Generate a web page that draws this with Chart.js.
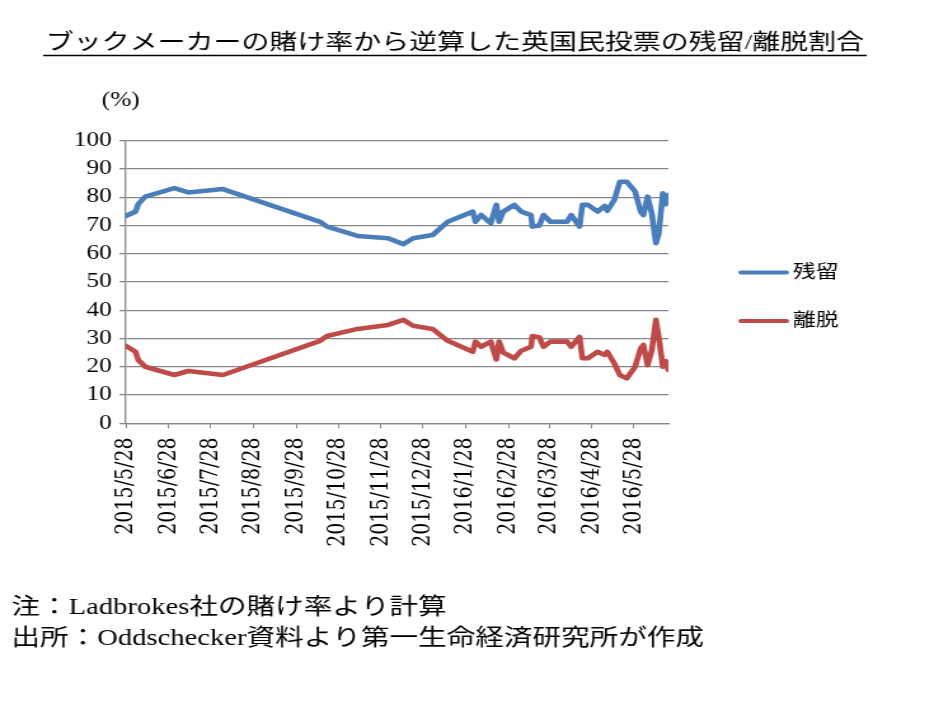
<!DOCTYPE html>
<html>
<head>
<meta charset="utf-8">
<script src="https://cdn.jsdelivr.net/npm/chart.js@4"></script>
<style>
  html, body { margin: 0; padding: 0; background: #fff; overflow: hidden; }
  /* the reference picture is stretched sideways, so the whole chart is too */
  #wrap { width: 735px; height: 701px; transform: scaleX(1.2707); transform-origin: 0 0; }
</style>
</head>
<body>
<div id="wrap"><canvas id="chart"></canvas></div>
<script>
const dates = [
  "2015/5/28", "2015/6/4", "2015/6/6", "2015/6/11", "2015/7/2", "2015/7/12", "2015/8/6",
  "2015/10/15", "2015/10/20", "2015/11/11", "2015/12/3", "2015/12/14", "2015/12/21",
  "2016/1/4", "2016/1/15", "2016/2/2", "2016/2/4", "2016/2/8", "2016/2/15", "2016/2/19",
  "2016/2/21", "2016/2/24", "2016/3/3", "2016/3/8", "2016/3/15", "2016/3/16", "2016/3/21",
  "2016/3/24", "2016/3/29", "2016/4/10", "2016/4/13", "2016/4/19", "2016/4/21", "2016/4/25",
  "2016/5/2", "2016/5/7", "2016/5/9", "2016/5/14", "2016/5/18", "2016/5/23", "2016/5/29",
  "2016/6/2", "2016/6/4", "2016/6/7", "2016/6/10", "2016/6/13", "2016/6/15", "2016/6/18",
  "2016/6/20", "2016/6/22"
]
const remain = [
  73.4, 74.9, 77.6, 80.2, 83.2, 81.7, 82.9,
  71.3, 69.6, 66.3, 65.5, 63.4, 65.5,
  66.6, 71.3, 74.9, 71.3, 73.7, 70.8, 77.3,
  71.3, 74.9, 77.3, 74.9, 73.7, 69.6, 70.0,
  73.7, 71.3, 71.3, 73.7, 69.6, 77.3, 77.3,
  74.9, 76.9, 75.2, 79.0, 85.5, 85.5, 82.0,
  74.9, 73.7, 80.2, 74.3, 63.7, 67.0, 81.4,
  77.5, 80.8
]
const leave = [
  27.4, 25.3, 22.4, 20.0, 17.1, 18.5, 17.1,
  29.2, 30.9, 33.4, 34.8, 36.6, 34.5,
  33.4, 29.2, 25.3, 28.9, 27.1, 28.9, 22.6,
  28.9, 25.0, 23.0, 25.7, 27.1, 30.9, 30.4,
  27.1, 28.9, 28.9, 27.1, 30.6, 23.0, 23.0,
  25.3, 24.2, 25.3, 21.2, 17.1, 15.9, 20.0,
  26.5, 27.7, 20.6, 25.7, 36.6, 30.6, 20.0,
  22.0, 18.9
]
const xTickLabels = [
  "2015/5/28", "2015/6/28", "2015/7/28", "2015/8/28", "2015/9/28", "2015/10/28",
  "2015/11/28", "2015/12/28", "2016/1/28", "2016/2/28", "2016/3/28", "2016/4/28", "2016/5/28"
]
const seriesNames = ["残留", "離脱"]
const seriesColors = ["#4a7ebb", "#be4b48"]

const title = "ブックメーカーの賭け率から逆算した英国民投票の残留/離脱割合"
const unitLabel = "(%)"
const notes = ["注：Ladbrokes社の賭け率より計算", "出所：Oddschecker資料より第一生命経済研究所が作成"]

// days counted from the first date, used as the x value
function dayOf(s) {
  const [y, m, d] = s.split("/").map(Number)
  return Date.UTC(y, m - 1, d) / 86400000
}
const day0 = dayOf(dates[0])
const xs = dates.map((s) => dayOf(s) - day0)
const tickDays = xTickLabels.map((s) => dayOf(s) - day0)

const jpFont = '"Liberation Serif", "Noto Sans CJK JP"'

const textPlugin = {
  id: "texts",
  afterDraw(chart) {
    const c = chart.ctx
    c.save()
    c.fillStyle = "#000"
    c.textBaseline = "middle"

    // title with underline
    c.font = "22px " + jpFont
    c.textAlign = "center"
    c.fillText(title, 358, 43)
    const w = c.measureText(title).width
    c.strokeStyle = "#000"
    c.lineWidth = 1.6
    c.beginPath()
    c.moveTo(358 - w / 2 - 2, 55.5)
    c.lineTo(358 + w / 2 + 2, 55.5)
    c.stroke()

    // unit
    c.font = "20px " + jpFont
    c.fillText(unitLabel, 95, 101)

    // legend
    c.textAlign = "left"
    c.font = "18px " + jpFont
    c.lineCap = "round"
    seriesNames.forEach((name, i) => {
      const y = 272.5 + i * 48.5
      c.strokeStyle = seriesColors[i]
      c.lineWidth = 4
      c.beginPath()
      c.moveTo(583, y)
      c.lineTo(619, y)
      c.stroke()
      c.fillText(name, 624, y + 0.5)
    })

    // notes
    c.font = "22.5px " + jpFont
    notes.forEach((t, i) => c.fillText(t, 9, 608 + i * 31))
    c.restore()
  }
}

new Chart(document.getElementById("chart"), {
  type: "line",
  data: {
    datasets: [remain, leave].map((vals, i) => ({
      label: seriesNames[i],
      data: vals.map((v, j) => ({ x: xs[j], y: v })),
      borderColor: seriesColors[i],
      backgroundColor: seriesColors[i],
      borderWidth: 4.6,
      borderJoinStyle: "round",
      borderCapStyle: "round",
      pointRadius: 0,
      tension: 0,
    })),
  },
  options: {
    responsive: true,
    maintainAspectRatio: false,
    animation: false,
    layout: { padding: { left: 0, right: 209, top: 140.7, bottom: 147.7 } },
    plugins: {
      legend: { display: false },
      tooltip: { enabled: false },
    },
    scales: {
      x: {
        type: "linear",
        min: 0,
        max: xs[xs.length - 1],
        afterBuildTicks: (scale) => { scale.ticks = tickDays.map((v) => ({ value: v })) },
        afterFit: (scale) => { scale.height = 130 },
        grid: { drawOnChartArea: false, color: "#868686", tickLength: 5 },
        border: { color: "#868686", width: 1.3 },
        ticks: {
          autoSkip: false,
          minRotation: 90,
          maxRotation: 90,
          padding: 9,
          color: "#000",
          font: { family: "DejaVu Serif", size: 19 },
          callback: (v) => xTickLabels[tickDays.indexOf(v)],
        },
      },
      y: {
        min: 0,
        max: 100,
        afterFit: (scale) => { scale.width = 99 },
        grid: { color: "#868686", lineWidth: 1.3, tickLength: 5 },
        border: { color: "#868686", width: 1.3 },
        ticks: {
          stepSize: 10,
          padding: 6,
          color: "#000",
          font: { family: "Liberation Serif", size: 20 },
        },
      },
    },
  },
  plugins: [textPlugin],
})
</script>
</body>
</html>
